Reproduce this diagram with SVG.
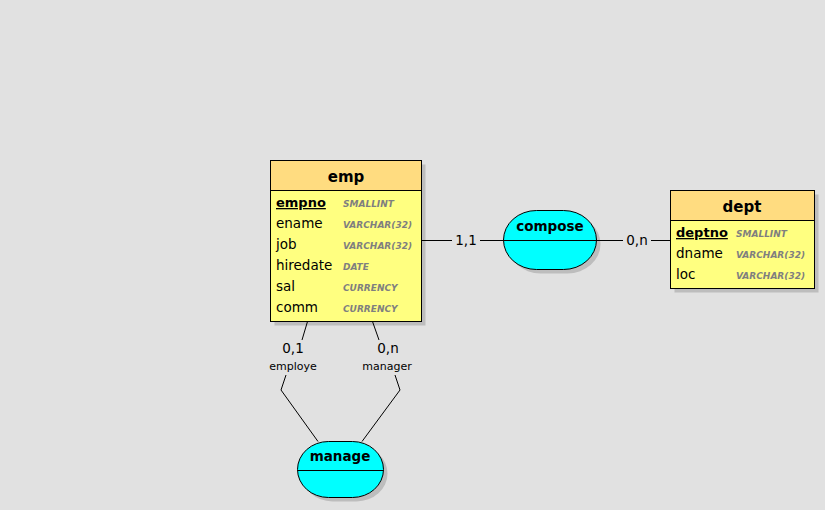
<svg xmlns="http://www.w3.org/2000/svg" width="825" height="510" viewBox="0 0 825 510">
<style>
text{font-family:"DejaVu Sans","Noto Sans",sans-serif;fill:#000}
.title{font-size:15px;font-weight:bold;text-anchor:middle}
.key{font-size:13px;font-weight:bold;text-decoration:underline}
.att{font-size:13.5px}
.typ{font-size:9px;font-weight:bold;font-style:italic;fill:#7f7f7f}
.rel{font-size:13.5px;font-weight:bold;text-anchor:middle}
.card{font-size:13.5px;text-anchor:middle}
.role{font-size:11px;text-anchor:middle}
.shadow{fill:#bdbdbd}
.hdr{fill:#ffdc80;stroke:#000;stroke-width:1}
.body{fill:#ffff80;stroke:#000;stroke-width:1}
.assoc{fill:#00ffff;stroke:#000;stroke-width:1}
.ln{stroke:#000;stroke-width:1;fill:none}
</style>
<rect width="825" height="510" fill="#e1e1e1"/>
<g id="emp">
<rect class="shadow" x="274.5" y="164.5" width="151" height="161"/>
<rect class="body" x="270.5" y="160.5" width="151" height="161"/>
<rect class="hdr" x="270.5" y="160.5" width="151" height="30"/>
<text class="title" x="346" y="182">emp</text>
<text class="key" x="276" y="207">empno</text>
<text class="att" x="276" y="228">ename</text>
<text class="att" x="276" y="249">job</text>
<text class="att" x="276" y="270">hiredate</text>
<text class="att" x="276" y="291">sal</text>
<text class="att" x="276" y="312">comm</text>
<text class="typ" x="343" y="207">SMALLINT</text>
<text class="typ" x="343" y="228">VARCHAR(32)</text>
<text class="typ" x="343" y="249">VARCHAR(32)</text>
<text class="typ" x="343" y="270">DATE</text>
<text class="typ" x="343" y="291">CURRENCY</text>
<text class="typ" x="343" y="312">CURRENCY</text>
</g>
<g id="dept">
<rect class="shadow" x="674.5" y="194.5" width="144" height="98"/>
<rect class="body" x="670.5" y="190.5" width="144" height="98"/>
<rect class="hdr" x="670.5" y="190.5" width="144" height="30"/>
<text class="title" x="742" y="212">dept</text>
<text class="key" x="676" y="237">deptno</text>
<text class="att" x="676" y="258">dname</text>
<text class="att" x="676" y="279">loc</text>
<text class="typ" x="736" y="237">SMALLINT</text>
<text class="typ" x="736" y="258">VARCHAR(32)</text>
<text class="typ" x="736" y="279">VARCHAR(32)</text>
</g>
<g id="compose">
<rect class="shadow" x="507.5" y="214.5" width="93" height="59" rx="33" ry="29.5"/>
<rect class="assoc" x="503.5" y="210.5" width="93" height="59" rx="33" ry="29.5"/>
<path class="ln" d="M503.5 240.5H596.5"/>
<text class="rel" x="550" y="231">compose</text>
</g>
<g id="manage">
<rect class="shadow" x="301.5" y="445.5" width="86" height="56" rx="31" ry="28"/>
<rect class="assoc" x="297.5" y="441.5" width="86" height="56" rx="31" ry="28"/>
<path class="ln" d="M297.5 470.5H383.5"/>
<text class="rel" x="340" y="461">manage</text>
</g>
<g id="connectors">
<path class="ln" d="M421.5 240.5H452M480 240.5H503.5"/>
<path class="ln" d="M596.5 240.5H623M651 240.5H670.5"/>
<path class="ln" d="M307.5 321.5L302 340M286 375L281 390L318 441.5"/>
<path class="ln" d="M372.5 321.5L379 340M395 375L400 390L362 441.5"/>
<text class="card" x="466" y="245">1,1</text>
<text class="card" x="637" y="245">0,n</text>
<text class="card" x="293" y="353">0,1</text>
<text class="role" x="293" y="370">employe</text>
<text class="card" x="388" y="353">0,n</text>
<text class="role" x="387" y="370">manager</text>
</g>
</svg>
